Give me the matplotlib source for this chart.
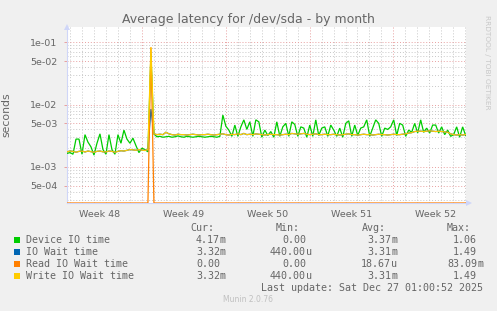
import numpy as np
import matplotlib
matplotlib.use("Agg")
import matplotlib.pyplot as plt
from matplotlib.patches import Rectangle

# ---------------- data (milliseconds, one sample every 6 hours) ----------------
sample_step_days = 0.25

device_io_ms = [
    1.65, 1.7, 1.6, 2.8, 2.8, 1.6, 3.3, 2.5, 2.1, 1.55,
    2.4, 3.4, 1.9, 1.6, 3.3, 1.9, 1.6, 3.3, 2.4, 3.9,
    2.8, 2.4, 2.9, 2.2, 1.7, 2.0, 1.9, 1.75, 65.0, 3.4,
    3.05, 3.1, 3.0, 3.05, 3.1, 3.0, 3.05, 3.15, 3.05, 3.0,
    3.1, 3.05, 3.0, 3.05, 3.1, 3.05, 3.0, 3.05, 3.1, 3.05,
    3.0, 3.1, 6.8, 4.5, 3.9, 3.1, 4.7, 3.1, 4.4, 5.7,
    4.0, 5.3, 3.1, 5.7, 5.3, 3.0, 3.9, 3.2, 3.7, 3.0,
    5.3, 3.1, 4.4, 5.0, 3.1, 5.3, 4.8, 3.1, 4.4, 4.2,
    3.0, 4.7, 3.1, 5.7, 3.2, 4.2, 4.4, 3.1, 4.7, 3.9,
    3.1, 4.2, 3.0, 5.0, 5.5, 3.1, 4.7, 3.2, 4.2, 4.4,
    5.7, 3.1, 4.2, 5.7, 5.0, 3.1, 4.2, 4.0, 4.4, 5.7,
    3.2, 5.0, 4.7, 3.1, 3.9, 3.6, 5.0, 3.5, 5.7, 3.6,
    4.2, 3.5, 4.7, 4.7, 3.5, 4.4, 3.3, 3.9, 3.1, 3.3,
    4.4, 3.0, 4.4, 3.2,
]

io_wait_ms = [
    1.75, 1.8, 1.78, 1.72, 1.78, 1.8, 1.74, 1.8, 1.76, 1.72,
    1.78, 1.8, 1.75, 1.74, 1.8, 1.78, 1.72, 1.78, 1.82, 1.8,
    1.85, 1.9, 1.88, 1.85, 1.9, 1.86, 1.84, 1.9, 8.5, 3.4,
    3.3, 3.35, 3.3, 3.6, 3.4, 3.3, 3.25, 3.35, 3.3, 3.3,
    3.25, 3.3, 3.35, 3.3, 3.25, 3.3, 3.3, 3.35, 3.3, 3.25,
    3.3, 3.35, 3.4, 3.3, 3.25, 3.35, 3.3, 3.4, 3.3, 3.45,
    3.3, 3.35, 3.3, 3.4, 3.35, 3.3, 3.25, 3.3, 3.35, 3.3,
    3.3, 3.25, 3.3, 3.35, 3.3, 3.45, 3.4, 3.35, 3.4, 3.45,
    3.35, 3.3, 3.35, 3.4, 3.3, 3.3, 3.35, 3.3, 3.3, 3.35,
    3.3, 3.25, 3.3, 3.35, 3.4, 3.3, 3.3, 3.25, 3.3, 3.35,
    3.3, 3.3, 3.25, 3.3, 3.35, 3.3, 3.3, 3.25, 3.3, 3.35,
    3.3, 3.3, 3.35, 3.4, 3.5, 3.55, 3.7, 3.75, 3.75, 3.7,
    3.75, 3.8, 3.75, 3.7, 3.75, 3.7, 3.65, 3.6, 3.4, 3.3,
    3.25, 3.3, 3.25, 3.32,
]

read_io_wait_ms = [
    0, 0, 0, 0, 0, 0, 0, 0, 0, 0,
    0, 0, 0, 0, 0, 0, 0, 0, 0, 0,
    0, 0, 0, 0, 0, 0, 0, 0, 83.09, 0,
    0, 0, 0, 0, 0, 0, 0, 0, 0, 0,
    0, 0, 0, 0, 0, 0, 0, 0, 0, 0,
    0, 0, 0, 0, 0, 0, 0, 0, 0, 0,
    0, 0, 0, 0, 0, 0, 0, 0, 0, 0,
    0, 0, 0, 0, 0, 0, 0, 0, 0, 0,
    0, 0, 0, 0, 0, 0, 0, 0, 0, 0,
    0, 0, 0, 0, 0, 0, 0, 0, 0, 0,
    0, 0, 0, 0, 0, 0, 0, 0, 0, 0,
    0, 0, 0, 0, 0, 0, 0, 0, 0, 0,
    0, 0, 0, 0, 0, 0, 0, 0, 0, 0,
    0, 0, 0, 0,
]

write_io_wait_ms = [
    1.75, 1.8, 1.78, 1.72, 1.78, 1.8, 1.74, 1.8, 1.76, 1.72,
    1.78, 1.8, 1.75, 1.74, 1.8, 1.78, 1.72, 1.78, 1.82, 1.8,
    1.85, 1.9, 1.88, 1.85, 1.9, 1.86, 1.84, 1.9, 83.0, 3.4,
    3.3, 3.35, 3.3, 3.6, 3.4, 3.3, 3.25, 3.35, 3.3, 3.3,
    3.25, 3.3, 3.35, 3.3, 3.25, 3.3, 3.3, 3.35, 3.3, 3.25,
    3.3, 3.35, 3.4, 3.3, 3.25, 3.35, 3.3, 3.4, 3.3, 3.45,
    3.3, 3.35, 3.3, 3.4, 3.35, 3.3, 3.25, 3.3, 3.35, 3.3,
    3.3, 3.25, 3.3, 3.35, 3.3, 3.45, 3.4, 3.35, 3.4, 3.45,
    3.35, 3.3, 3.35, 3.4, 3.3, 3.3, 3.35, 3.3, 3.3, 3.35,
    3.3, 3.25, 3.3, 3.35, 3.4, 3.3, 3.3, 3.25, 3.3, 3.35,
    3.3, 3.3, 3.25, 3.3, 3.35, 3.3, 3.3, 3.25, 3.3, 3.35,
    3.3, 3.3, 3.35, 3.4, 3.5, 3.55, 3.7, 3.75, 3.75, 3.7,
    3.75, 3.8, 3.75, 3.7, 3.75, 3.7, 3.65, 3.6, 3.4, 3.3,
    3.25, 3.3, 3.25, 3.32,
]

series_names = ["Device IO time", "IO Wait time", "Read IO Wait time", "Write IO Wait time"]
series_colors = ["#00CC00", "#0066B3", "#FF8000", "#FFCC00"]
cur_vals = ["4.17m", "3.32m", "0.00", "3.32m"]
min_vals = ["0.00", "440.00u", "0.00", "440.00u"]
avg_vals = ["3.37m", "3.31m", "18.67u", "3.31m"]
max_vals = ["1.06", "1.49", "83.09m", "1.49"]

week_labels = ["Week 48", "Week 49", "Week 50", "Week 51", "Week 52"]
y_major_ticks = [5e-4, 1e-3, 5e-3, 1e-2, 5e-2, 1e-1]
y_major_labels = ["5e-04", "1e-03", "5e-03", "1e-02", "5e-02", "1e-01"]

title = "Average latency for /dev/sda - by month"
last_update = "Last update: Sat Dec 27 01:00:52 2025"
footer = "Munin 2.0.76"
side_text = "RRDTOOL / TOBI OETIKER"

# ---------------- layout ----------------
W, H = 497, 311
first_week_boundary = 6.23   # days from graph start to start of week 49
x_span_days = 33.28
y_min, y_max = 2.64e-4, 0.176

TXT = "#666666"
AXISC = "#CFD6F8"
MINOR_GRID = "#C8C8C8"
MAJOR_GRID = "#E8A0A0"

fig = plt.figure(figsize=(W / 100, H / 100), dpi=100)
fig.patch.set_facecolor("#F0F0F0")


def fx(px):
    return px / W


def fy(py):
    return 1 - py / H


ax = fig.add_axes([fx(67), fy(203), fx(466) - fx(67), fy(27) - fy(203)])
ax.set_facecolor("white")
ax.set_yscale("log")
ax.set_xlim(0, x_span_days)
ax.set_ylim(y_min, y_max)

# grid lines
dot = (0, (1, 2))
days = np.arange(first_week_boundary - 6, x_span_days, 1.0)
week_bounds = np.arange(first_week_boundary, x_span_days, 7.0)
for d in days:
    if np.min(np.abs(week_bounds - d)) < 1e-6:
        continue
    ax.axvline(d, color=MINOR_GRID, lw=0.7, ls=dot, zorder=1)
for d in week_bounds:
    ax.axvline(d, color=MAJOR_GRID, lw=0.7, ls=dot, zorder=1)

for e in range(-4, 0):
    for m in range(2, 10):
        v = m * 10.0 ** e
        if v in [5 * 10.0 ** e]:
            continue
        if y_min < v < y_max:
            ax.axhline(v, color=MINOR_GRID, lw=0.7, ls=dot, zorder=1)
for v in y_major_ticks:
    ax.axhline(v, color=MAJOR_GRID, lw=0.7, ls=dot, zorder=1)

# data
t = np.arange(len(device_io_ms)) * sample_step_days
all_series = [device_io_ms, io_wait_ms, read_io_wait_ms, write_io_wait_ms]
for vals, col in zip(all_series, series_colors):
    v = np.array(vals, dtype=float) * 1e-3
    v = np.clip(v, y_min * 1.0, None)
    ax.plot(t, v, color=col, lw=0.9, zorder=3, solid_joinstyle="miter")

# axes styling
for s in ["top", "right"]:
    ax.spines[s].set_visible(False)
ax.spines["left"].set_color(AXISC)
ax.spines["bottom"].set_color(AXISC)
ax.spines["left"].set_linewidth(0.8)
ax.spines["bottom"].set_linewidth(0.8)
ax.spines["bottom"].set_zorder(2)

ax.yaxis.set_major_locator(matplotlib.ticker.FixedLocator(y_major_ticks))
ax.yaxis.set_minor_locator(matplotlib.ticker.NullLocator())
ax.set_yticks(y_major_ticks)
ax.set_yticklabels(y_major_labels)
ax.tick_params(axis="y", which="major", length=2, width=0.7, color=MAJOR_GRID,
               labelsize=6.8, labelcolor=TXT, pad=5)

week_mids = [first_week_boundary - 3.5 + 7 * k for k in range(len(week_labels))]
ax.set_xticks(week_mids)
ax.set_xticklabels(week_labels)
ax.tick_params(axis="x", which="major", length=0, labelsize=6.8, labelcolor=TXT, pad=5)
ax.set_ylabel("seconds", fontsize=7.8, color=TXT, labelpad=6)
ax.yaxis.set_label_coords(-(67 - 11) / (466 - 67), 0.5)

# arrows
ax.plot([0], [1.0], marker="^", markersize=4, color=AXISC, transform=ax.transAxes,
        clip_on=False, zorder=5, markeredgewidth=0)
ax.plot([1.0 + 3 / 399], [0], marker=">", markersize=4, color=AXISC, transform=ax.transAxes,
        clip_on=False, zorder=5, markeredgewidth=0)
ax.plot([1.0, 1.0 + 3 / 399], [0, 0], color=AXISC, lw=0.8, transform=ax.transAxes, clip_on=False)

# title and side text
fig.text(fx(248), fy(19), title, ha="center", va="center", fontsize=9, color=TXT)
fig.text(fx(487), fy(15), side_text, ha="center", va="top", rotation=270,
         fontsize=5.3, color="#C8C8C8")

# legend
mono = "DejaVu Sans Mono"
lfs = 7.2
rows_y = [239.7, 251.7, 263.7, 275.7]
headers = [("Cur:", 190), ("Min:", 276), ("Avg:", 362), ("Max:", 447)]
for h, x in headers:
    fig.text(fx(x), fy(228), h, ha="left", va="center", family=mono, fontsize=lfs, color=TXT)

col_right = [220, 306, 391, 477]
cols = [cur_vals, min_vals, avg_vals, max_vals]


def split_val(s):
    if s[-1].isalpha():
        return s[:-1], s[-1]
    return s, ""


for i, (name, col) in enumerate(zip(series_names, series_colors)):
    y = rows_y[i]
    fig.patches.append(Rectangle((fx(14), fy(y + 3)), fx(6), 6 / H, transform=fig.transFigure,
                                 facecolor=col, edgecolor="none"))
    fig.text(fx(26), fy(y), name, ha="left", va="center", family=mono, fontsize=lfs, color=TXT)
    for vals, xr in zip(cols, col_right):
        num, suf = split_val(vals[i])
        fig.text(fx(xr), fy(y), num, ha="right", va="center", family=mono, fontsize=lfs, color=TXT)
        if suf:
            fig.text(fx(xr), fy(y), suf, ha="left", va="center", family=mono, fontsize=lfs, color=TXT)

fig.text(fx(483), fy(288), last_update, ha="right", va="center", family=mono, fontsize=lfs, color=TXT)
fig.text(fx(248), fy(300), footer, ha="center", va="center", fontsize=5.5, color="#C0C0C0")

fig.savefig("out.png", dpi=100, facecolor=fig.get_facecolor())
